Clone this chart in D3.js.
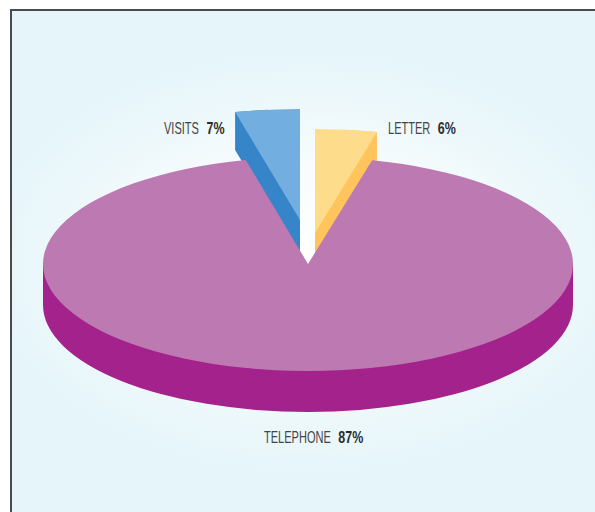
<!DOCTYPE html>
<html>
<head>
<meta charset="utf-8">
<script src="https://cdn.jsdelivr.net/npm/d3@7"></script>
<style>
  html, body { margin: 0; padding: 0; background: #fff; }
  svg { display: block; }
  text { font-family: "Liberation Sans", sans-serif; font-size: 16px; fill: #444446; }
  .pct { font-weight: bold; fill: #2b2b2d; }
</style>
</head>
<body>
<svg id="chart" width="595" height="512"></svg>
<script>
// Contact channels and their shares, in percent
const categories = ["LETTER", "TELEPHONE", "VISITS"];
const shares = [6, 87, 7];

const faceColors = ["#fddc8c", "#bd79b2", "#72aee0"];
const wallColors = ["#ffc55c", "#a4228c", "#3585c8"];

const svg = d3.select("#chart");
const deg = Math.PI / 180;

// Panel with a soft pale glow behind the pie
const defs = svg.append("defs");
const glow = defs.append("radialGradient")
  .attr("id", "glow")
  .attr("gradientUnits", "userSpaceOnUse")
  .attr("cx", 0).attr("cy", 0).attr("r", 1)
  .attr("gradientTransform", "translate(308 262) scale(330 215)");
glow.append("stop").attr("offset", "0").attr("stop-color", "#ffffff");
glow.append("stop").attr("offset", "0.45").attr("stop-color", "#f7fcfd");
glow.append("stop").attr("offset", "0.75").attr("stop-color", "#edf8fb");
glow.append("stop").attr("offset", "1").attr("stop-color", "#e5f5fa");

svg.append("rect").attr("x", 11).attr("y", 10).attr("width", 584).attr("height", 502)
  .attr("fill", "url(#glow)");
svg.append("path").attr("d", "M11 512V10H595")
  .attr("fill", "none").attr("stroke", "#4b4b4b").attr("stroke-width", 2);

// Shares to pie angles, starting clockwise from the back of the disc
const arcs = d3.pie().value(d => d).sort(null)(shares);

// Foreshortening: the far side of the tilted disc reads narrower on screen
const rimAngle = d3.scaleLinear()
  .domain([arcs[2].startAngle - 2 * Math.PI, 0, arcs[0].endAngle, arcs[1].endAngle])
  .range([-13.6 * deg, 0, 14 * deg, 346.4 * deg]);

// Each slice's disc centre and radii; the two small slices are pulled out
const discs = [
  { cx: 315, cy: 233, rx: 256, ry: 104, depth: 38 },
  { cx: 308, cy: 264, rx: 265, ry: 107, depth: 41 },
  { cx: 300, cy: 220, rx: 276, ry: 111, depth: 38 }
];
const spans = [
  [rimAngle(arcs[0].startAngle), rimAngle(arcs[0].endAngle)],
  [rimAngle(arcs[1].startAngle), rimAngle(arcs[1].endAngle)],
  [rimAngle(arcs[2].startAngle - 2 * Math.PI), rimAngle(arcs[2].endAngle - 2 * Math.PI)]
];

const rimPoint = (disc, a) => [
  disc.cx + disc.rx * Math.sin(a),
  disc.cy - disc.ry * Math.cos(a)
];
const polygon = d3.line();

function drawFace(i) {
  const disc = discs[i];
  svg.append("path")
    .attr("transform", `translate(${disc.cx},${disc.cy}) scale(1,${disc.ry / disc.rx})`)
    .attr("d", d3.arc().innerRadius(0).outerRadius(disc.rx)({
      startAngle: spans[i][0], endAngle: spans[i][1]
    }))
    .attr("fill", faceColors[i]);
}

// Cut side of a pulled-out slice; it runs a little under the face to avoid a seam
function drawCutWall(i, a) {
  const disc = discs[i];
  const p = rimPoint(disc, a);
  svg.append("path")
    .attr("d", polygon([
      [disc.cx, disc.cy], rimPoint(disc, a / 2), p,
      [p[0], p[1] + disc.depth], [disc.cx, disc.cy + disc.depth]
    ]) + "Z")
    .attr("fill", wallColors[i]);
}

// The small slices sit behind the main one
drawCutWall(0, spans[0][1]);
drawFace(0);
drawCutWall(2, spans[2][0]);
drawFace(2);

// Front wall of the main slice, extruded downward from the disc's middle line
const main = discs[1];
svg.append("path")
  .attr("d", `M${main.cx - main.rx},${main.cy}H${main.cx + main.rx}` +
    `V${main.cy + main.depth}` +
    `A${main.rx},${main.ry} 0 0 1 ${main.cx - main.rx},${main.cy + main.depth}Z`)
  .attr("fill", wallColors[1]);
drawFace(1);

// Labels: name in regular weight, share in bold, both set condensed
const labelAnchors = [[388, 134], [264, 443], [164, 134]];
const nameSqueeze = 0.69;
const pctSqueeze = 0.78;
const labelGap = 7.5;
categories.forEach((name, i) => {
  const [x, y] = labelAnchors[i];
  const label = svg.append("text")
    .attr("transform", `translate(${x},${y}) scale(${nameSqueeze},1)`)
    .text(name);
  const nameWidth = label.node().getComputedTextLength() * nameSqueeze;
  svg.append("text")
    .attr("class", "pct")
    .attr("transform", `translate(${x + nameWidth + labelGap},${y}) scale(${pctSqueeze},1)`)
    .text(shares[i] + "%");
});
</script>
</body>
</html>
